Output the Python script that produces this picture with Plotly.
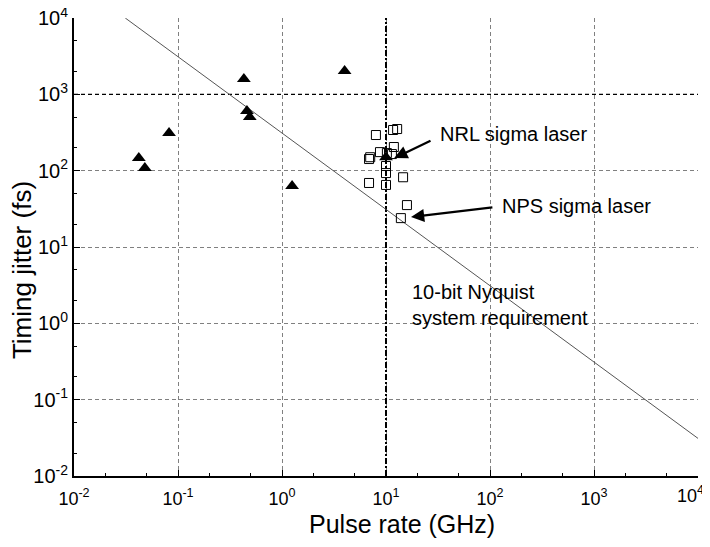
import numpy as np
import plotly.graph_objects as go

# Filled triangles: other lasers
tri_rate = [0.042, 0.048, 0.082, 0.43, 0.46, 0.49, 1.25, 4.0, 10.0]
tri_jitter = [146, 108, 311, 1590, 604, 504, 63, 2020, 150]

# Open squares: sigma lasers around 10 GHz
sq_rate = [8.0, 11.7, 12.8, 8.75, 6.87, 7.05, 11.9, 10.2, 11.4, 10.0, 10.0, 6.87, 14.6, 10.0, 15.9, 13.9]
sq_jitter = [293, 341, 351, 175, 142, 150, 204, 170, 165, 115, 93, 69, 82, 65, 35.4, 23.9]

# 10-bit Nyquist requirement: jitter = K / rate
nyq_rate = [0.0311, 10000]
nyq_K = 311.0

x_ticks = [0.01, 0.1, 1, 10, 100, 1000, 10000]
x_ticktext = ["10<sup>-2</sup>", "10<sup>-1</sup>", "10<sup>0</sup>", "10<sup>1</sup>",
              "10<sup>2</sup>", "10<sup>3</sup>", "10<sup>4</sup>"]
y_ticks = [0.01, 0.1, 1, 10, 100, 1000, 10000]
y_ticktext = x_ticktext

x_title = "Pulse rate (GHz)"
y_title = "Timing jitter (fs)"

ref_rate = 10
ref_jitter = 1000

FONT = "Arial, Liberation Sans, sans-serif"

fig = go.Figure()

# emphasised reference grid lines
fig.add_trace(go.Scatter(x=[ref_rate, ref_rate], y=[y_ticks[0], y_ticks[-1]], mode="lines",
                         line=dict(color="black", width=2, dash="6px,2px,2px,2px"), hoverinfo="skip",
                         showlegend=False))
fig.add_trace(go.Scatter(x=[x_ticks[0], x_ticks[-1]], y=[ref_jitter, ref_jitter], mode="lines",
                         line=dict(color="black", width=1.3, dash="4px,3px"), hoverinfo="skip",
                         showlegend=False))

fig.add_trace(go.Scatter(x=nyq_rate, y=[nyq_K / r for r in nyq_rate], mode="lines",
                         line=dict(color="#555555", width=1), showlegend=False))

fig.add_trace(go.Scatter(x=sq_rate, y=sq_jitter, mode="markers",
                         marker=dict(symbol="square-open", size=9, color="black",
                                     line=dict(width=1, color="black")),
                         showlegend=False))
fig.add_trace(go.Scatter(x=tri_rate, y=tri_jitter, mode="markers",
                         marker=dict(symbol="triangle-up", size=12, color="black"),
                         showlegend=False))

L = np.log10
annots = [
    dict(x=L(12.0), y=L(146), ax=L(27.7), ay=L(252), text="", showarrow=True,
         arrowhead=2, arrowsize=1.2, arrowwidth=2.2, arrowcolor="black"),
    dict(x=L(31.6), y=L(302), text="NRL sigma laser", showarrow=False, xanchor="left",
         font=dict(size=20, color="black", family=FONT)),
    dict(x=L(17.4), y=L(24.7), ax=L(109), ay=L(33.3), text="", showarrow=True,
         arrowhead=2, arrowsize=1.2, arrowwidth=2.2, arrowcolor="black"),
    dict(x=L(125), y=L(34.4), text="NPS sigma laser", showarrow=False, xanchor="left",
         font=dict(size=20, color="black", family=FONT)),
    dict(x=L(17.0), y=L(1.73), text="10-bit Nyquist<br>system requirement", showarrow=False,
         xanchor="left", align="left", font=dict(size=20, color="black", family=FONT)),
]
for a in annots:
    a.update(xref="x", yref="y")
    if "ax" in a:
        a.update(axref="x", ayref="y")

# axis titles and the last x tick label (pulled inside the page, as in the original)
annots += [
    dict(xref="paper", yref="paper", x=0.526, y=-0.105, xanchor="center", yanchor="middle",
         text=x_title, showarrow=False, font=dict(size=25, color="black", family=FONT)),
    dict(xref="paper", yref="paper", x=-0.083, y=0.45, xanchor="center", yanchor="middle",
         text=y_title, textangle=-90, showarrow=False,
         font=dict(size=26, color="black", family=FONT)),
    dict(xref="paper", yref="paper", x=1, y=0, xshift=-8, yshift=-5, xanchor="center",
         yanchor="top", text=x_ticktext[-1], showarrow=False,
         font=dict(size=18, color="black", family=FONT)),
]
fig.update_layout(annotations=annots)

axis_common = dict(
    type="log", showline=True, linecolor="black", linewidth=2, mirror=False,
    showgrid=True, gridcolor="#808080", griddash="4px,3px", gridwidth=1,
    ticks="inside", ticklen=6, tickcolor="black", tickwidth=1,
    minor=dict(ticks="inside", ticklen=3, tickcolor="black", showgrid=False),
    zeroline=False, automargin=False, ticklabeloverflow="allow",
)

fig.update_xaxes(**axis_common, range=[-2, 4], tickvals=x_ticks,
                 ticktext=x_ticktext[:-1] + [""], ticklabelstandoff=5,
                 tickfont=dict(size=18, color="black", family=FONT))
fig.update_yaxes(**axis_common, range=[-2, 4], tickvals=y_ticks, ticktext=y_ticktext,
                 tickfont=dict(size=20, color="black", family=FONT))

fig.update_layout(
    width=710, height=547,
    margin=dict(l=66, r=20, t=10, b=79),
    paper_bgcolor="white", plot_bgcolor="white",
    font=dict(family=FONT, color="black"),
    showlegend=False,
)

fig.write_html("out.html")
